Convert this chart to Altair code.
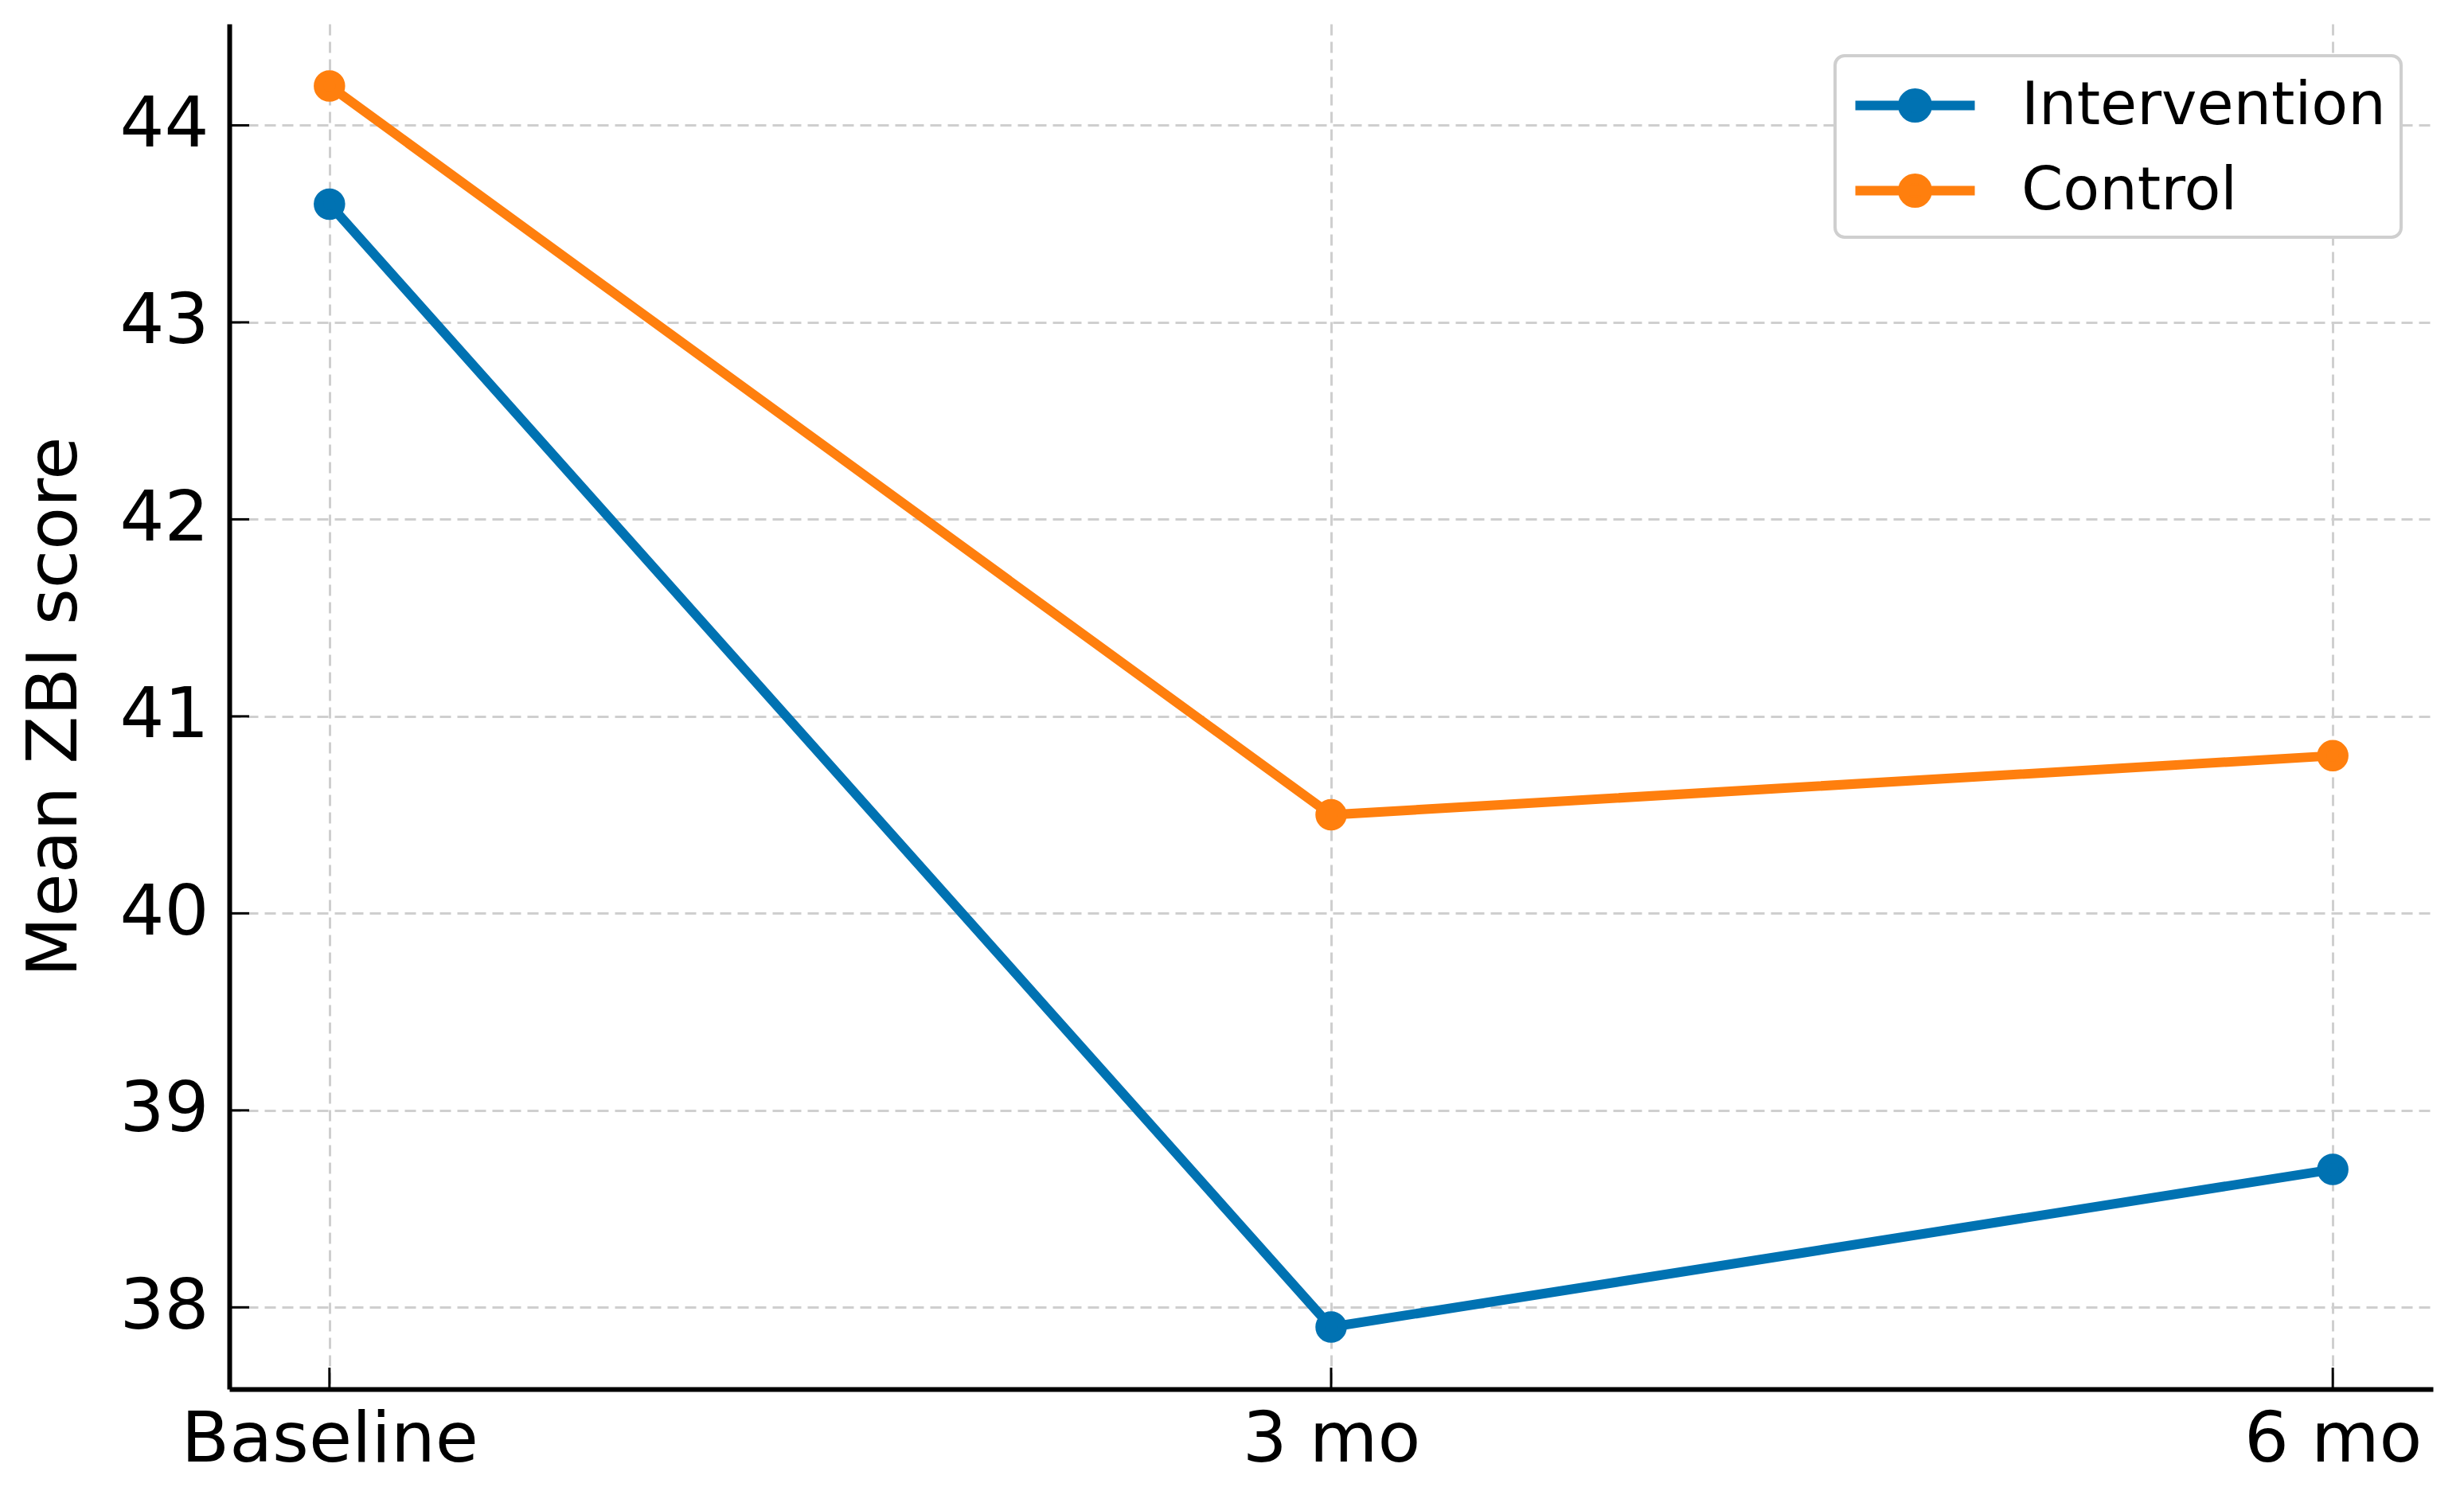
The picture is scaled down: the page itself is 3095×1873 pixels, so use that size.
import json
import altair as alt
import pandas as pd

# ---- data ----
timepoints = ["Baseline", "3 mo", "6 mo"]
series_names = ["Intervention", "Control"]
intervention = [43.6, 37.9, 38.7]
control = [44.2, 40.5, 40.8]
y_ticks = [38, 39, 40, 41, 42, 43, 44]
x_ticks = [0, 1, 2]
colors = ["#0072B2", "#FF7F0E"]

rows = []
for name, vals in zip(series_names, [intervention, control]):
    for i, (t, v) in enumerate(zip(timepoints, vals)):
        rows.append({"t": i, "label": t, "series": name, "value": v})
df = pd.DataFrame(rows)
ytick_df = pd.DataFrame({"t": x_ticks[:1] * len(y_ticks), "value": y_ticks})
xtick_df = pd.DataFrame({"t": x_ticks, "value": [y_ticks[0]] * len(x_ticks)})

W, H = 2768, 1715
FONT = "DejaVu Sans"
LW = 12

xscale = alt.Scale(domain=[-0.1, 2.1], nice=False, zero=False)
yscale = alt.Scale(domain=[37.585, 44.515], nice=False, zero=False)
cscale = alt.Scale(domain=series_names, range=colors)

label_expr = json.dumps(timepoints) + "[datum.value]"

xaxis = alt.Axis(values=x_ticks, labelExpr=label_expr, title=None, ticks=False,
                 labelPadding=20, labelFontSize=88, grid=True, labelLimit=0,
                 minExtent=120, maxExtent=120)
yaxis = alt.Axis(values=y_ticks, title="Mean ZBI score", ticks=False,
                 labelPadding=26, labelFontSize=88, titleFontSize=88,
                 titleX=-219, titleY=H / 2, titleAngle=270,
                 titleAlign="center", titleBaseline="middle",
                 grid=True, labelLimit=0)

legend_path = ("M-2,0L2,0M-0.413,0A0.413,0.413,0,1,1,0.413,0"
               "A0.413,0.413,0,1,1,-0.413,0Z")
leg = alt.Legend(title=None, orient="top-right", offset=40,
                 symbolType=legend_path, symbolSize=5625, symbolStrokeWidth=LW,
                 symbolOffset=38, labelFontSize=75, labelFont=FONT,
                 labelColor="black", labelLimit=0, padding=19, rowPadding=24,
                 labelOffset=90, strokeColor="#cfcfcf", cornerRadius=12,
                 fillColor="white", symbolOpacity=1)

base = alt.Chart(df)

X = alt.X("t:Q", scale=xscale, axis=xaxis)
Y = alt.Y("value:Q", scale=yscale, axis=yaxis)

lines = base.mark_line(strokeWidth=LW).encode(
    x=X, y=Y,
    stroke=alt.Stroke("series:N", scale=cscale, legend=leg),
    detail="series:N",
)

points = base.mark_point(filled=True, size=755, strokeWidth=LW, opacity=1).encode(
    x=X, y=Y,
    color=alt.Color("series:N", scale=cscale, legend=leg),
    stroke=alt.Stroke("series:N", scale=cscale, legend=leg),
)

yticks = alt.Chart(ytick_df).mark_rule(color="black", strokeWidth=3).encode(
    y=Y,
    x=alt.value(0),
    x2=alt.value(25),
)
xticks = alt.Chart(xtick_df).mark_rule(color="black", strokeWidth=3).encode(
    x=X,
    y=alt.value(H),
    y2=alt.value(H - 27),
)

chart = alt.layer(lines, points, yticks, xticks).properties(
    width=W, height=H,
    padding={"left": 17, "top": 22, "right": 31, "bottom": 0},
).configure_view(stroke=None).configure_axis(
    labelFont=FONT, titleFont=FONT, labelColor="black", titleColor="black",
    titleFontWeight="normal", domainColor="black", domainWidth=6,
    gridColor="#cfcfcf", gridDash=[14, 8], gridWidth=3,
).configure_legend(strokeWidth=4)

chart.save("out.html", embed_options={"renderer": "svg", "actions": False})
